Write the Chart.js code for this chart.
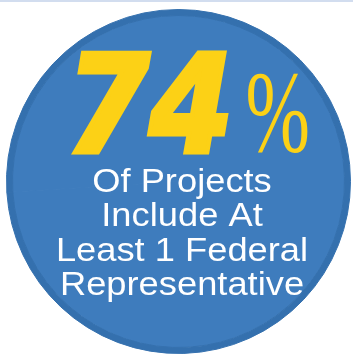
<!DOCTYPE html>
<html>
<head>
<meta charset="utf-8">
<script src="https://cdn.jsdelivr.net/npm/chart.js@4/dist/chart.umd.min.js"></script>
<style>
    html, body { margin: 0; padding: 0; background: #fff; }
    #wrap { width: 353px; height: 354px; border-top: 2px solid #d2ddef; }
</style>
</head>
<body>
<div id="wrap"><canvas id="share-chart" width="353" height="354"></canvas></div>
<script>
    // share of projects with at least one federal representative
    const share = 74;
    const slices = [share, 100 - share];
    const caption = ["Of Projects", "Include At", "Least 1 Federal", "Representative"];

    const fill_blue = "#3e7cbd";
    const ring_blue = "#3470ae";
    const yellow = "#fcd116";

    // big number, percent sign and caption lines drawn over the disc
    const badge_text = {
        id: "badge_text",
        afterDraw(chart) {
            const ctx = chart.ctx;
            const arc = chart.getDatasetMeta(1).data[0];
            const cx = arc.x, cy = arc.y;

            const draw_fit = (text, font, left, baseline, width, heavy) => {
                ctx.save();
                ctx.font = font;
                ctx.textAlign = "left";
                ctx.textBaseline = "alphabetic";
                const m = ctx.measureText(text);
                const ink = m.actualBoundingBoxLeft + m.actualBoundingBoxRight + heavy;
                const sx = width / ink;
                ctx.translate(left, baseline);
                ctx.scale(sx, 1);
                ctx.fillText(text, m.actualBoundingBoxLeft + heavy / 2, 0);
                if (heavy) {
                    ctx.lineWidth = heavy;
                    ctx.lineJoin = "miter";
                    ctx.strokeStyle = ctx.fillStyle;
                    ctx.strokeText(text, m.actualBoundingBoxLeft + heavy / 2, 0);
                }
                ctx.restore();
            };

            ctx.fillStyle = yellow;
            draw_fit(String(share), 'bold oblique 135px "DejaVu Sans"', cx - 106, cy - 30, 156, 5);
            draw_fit("%", '116px "Liberation Serif"', cx + 69, cy - 31, 60, 0);

            ctx.save();
            ctx.fillStyle = "#ffffff";
            ctx.font = '33px "Liberation Sans"';
            ctx.textAlign = "center";
            ctx.textBaseline = "alphabetic";
            caption.forEach((line, i) => {
                ctx.save();
                ctx.translate(cx + 3.5, cy + 10.5 + i * 34.3);
                ctx.scale(1.1, 1);
                ctx.fillText(line, 0, 0);
                ctx.restore();
            });
            ctx.restore();
        }
    };

    const ctx = document.getElementById("share-chart").getContext("2d");

    new Chart(ctx, {
        type: "pie",
        data: {
            labels: ["With federal representative", "Without"],
            datasets: [
                {
                    // thin outer rim
                    data: slices,
                    backgroundColor: [ring_blue, ring_blue],
                    borderColor: ring_blue,
                    borderWidth: 1,
                    weight: 6,
                },
                {
                    data: slices,
                    backgroundColor: [fill_blue, fill_blue],
                    borderColor: fill_blue,
                    borderWidth: 1,
                    weight: 166.5,
                }
            ],
        },
        options: {
            responsive: false,
            animation: false,
            layout: {
                padding: { left: 6, right: 2, top: 7, bottom: 2 }
            },
            plugins: {
                legend: { display: false },
                tooltip: { enabled: false },
            },
        },
        plugins: [badge_text],
    });
</script>
</body>
</html>
